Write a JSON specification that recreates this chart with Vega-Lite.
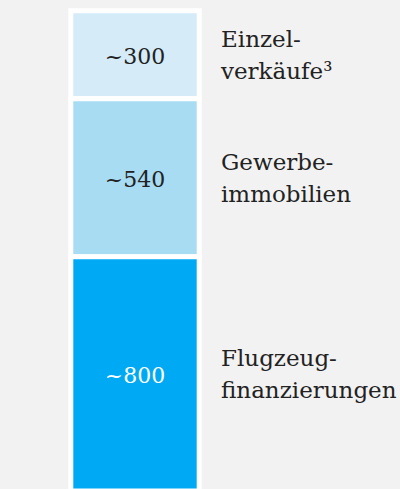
{
  "$schema": "https://vega.github.io/schema/vega-lite/v6.json",
  "width": 400,
  "height": 489,
  "padding": 0,
  "autosize": {"type": "none"},
  "background": "#f2f2f2",
  "config": {"view": {"stroke": null}, "text": {"font": "DejaVu Serif"}},
  "data": {
    "values": [
      {"bar": "A", "order": 1, "category": "Einzel-\nverkäufe³", "value": 300, "label": "~300"},
      {"bar": "A", "order": 2, "category": "Gewerbe-\nimmobilien", "value": 540, "label": "~540"},
      {"bar": "A", "order": 3, "category": "Flugzeug-\nfinanzierungen", "value": 800, "label": "~800"}
    ]
  },
  "transform": [
    {"stack": "value", "groupby": ["bar"], "sort": [{"field": "order", "order": "ascending"}], "as": ["v0", "v1"]},
    {"calculate": "(datum.v0 + datum.v1) / 2", "as": "mid"}
  ],
  "encoding": {
    "x": {"field": "bar", "type": "nominal", "axis": null,
          "scale": {"range": [70.8, 199.2], "paddingInner": 0, "paddingOuter": 0}}
  },
  "layer": [
    {
      "mark": {"type": "bar", "stroke": "white", "strokeWidth": 5},
      "encoding": {
        "y": {"field": "v0", "type": "quantitative", "axis": null,
              "scale": {"domain": [0, 1640], "range": [10.8, 491], "nice": false, "zero": false}},
        "y2": {"field": "v1"},
        "color": {"field": "category", "type": "nominal", "legend": null,
                  "scale": {"domain": ["Einzel-\nverkäufe³", "Gewerbe-\nimmobilien", "Flugzeug-\nfinanzierungen"],
                            "range": ["#d5ebf8", "#a8dcf2", "#00a9f4"]}}
      }
    },
    {
      "mark": {"type": "text", "fontSize": 22, "baseline": "middle", "align": "center", "dy": 2},
      "encoding": {
        "y": {"field": "mid", "type": "quantitative"},
        "text": {"field": "label"},
        "color": {"condition": {"test": "datum.order === 3", "value": "#ffffff"}, "value": "#222222"}
      }
    },
    {
      "mark": {"type": "text", "fontSize": 23, "baseline": "middle", "align": "left", "dx": 86, "dy": -15, "lineBreak": "\n", "lineHeight": 32, "color": "#222222"},
      "encoding": {
        "y": {"field": "mid", "type": "quantitative"},
        "text": {"field": "category"}
      }
    }
  ]
}
